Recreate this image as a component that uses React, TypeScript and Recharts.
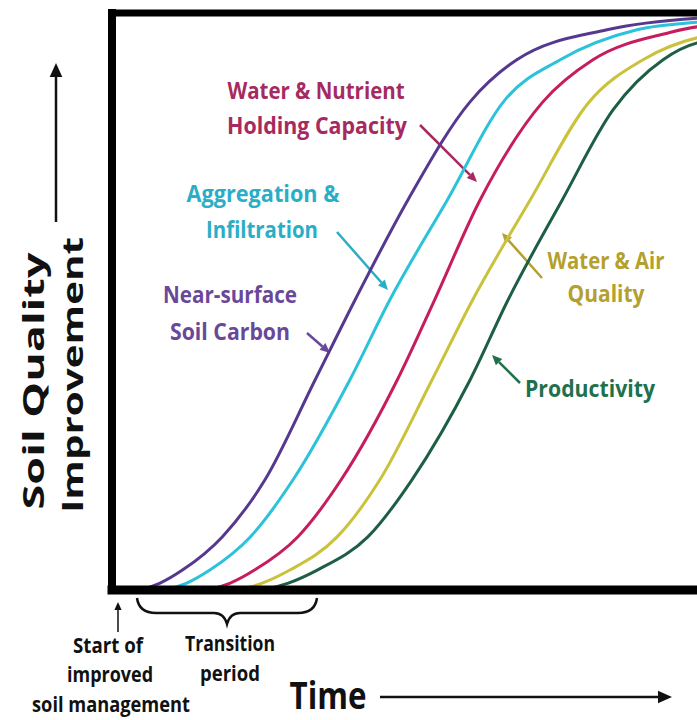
import React from "react";
import {
  LineChart,
  Line,
  XAxis,
  YAxis,
  ReferenceLine,
  Customized,
} from "recharts";

// time since start of improved management (0-100), soil quality improvement (0-100)
const carbonTime = [4.2, 7.2, 10.6, 16.5, 22.9, 30.4, 36.4, 44.3, 53.6, 60.6, 74.1, 87.6, 100];
const carbonLevel = [0, 1.2, 3.5, 9.2, 19.1, 36.4, 50.3, 67.6, 84.6, 91.9, 97.1, 99.1, 99.6];

const aggregationTime = [7.9, 11.2, 14.7, 20.7, 27.1, 35.6, 41.6, 50.2, 58.8, 67.1, 78.6, 87.6, 100];
const aggregationLevel = [0, 1.2, 3.5, 9.2, 19.1, 36.4, 50.3, 67.6, 84.9, 91.9, 97.1, 98.4, 99.0];

const nutrientTime = [14.4, 17.7, 21.4, 27.8, 34.3, 42.7, 48.3, 55.1, 64.5, 72.0, 83.1, 87.6, 100];
const nutrientLevel = [0, 1.2, 3.5, 9.2, 19.1, 36.4, 50.3, 67.6, 84.6, 91.9, 96.5, 97.6, 98.4];

const waterAirTime = [18.9, 22.5, 26.7, 33.7, 40.1, 47.9, 54.0, 62.6, 71.3, 79.5, 87.6, 100];
const waterAirLevel = [0, 1.2, 3.5, 9.2, 19.1, 36.4, 50.3, 67.6, 84.4, 91.9, 95.7, 97.4];

const productivityTime = [22.5, 26.4, 30.8, 38.3, 44.9, 53.6, 59.3, 67.4, 75.0, 82.5, 87.6, 100];
const productivityLevel = [0, 1.2, 3.5, 9.2, 19.1, 36.4, 50.3, 67.6, 83.2, 91.9, 94.8, 96.7];

const toPoints = (t: number[], v: number[]) => t.map((x, i) => ({ t: x, v: v[i] }));

const series = [
  { name: "Near-surface Soil Carbon", color: "#56388f", data: toPoints(carbonTime, carbonLevel) },
  { name: "Aggregation & Infiltration", color: "#2cc2da", data: toPoints(aggregationTime, aggregationLevel) },
  { name: "Water & Nutrient Holding Capacity", color: "#c61d5e", data: toPoints(nutrientTime, nutrientLevel) },
  { name: "Water & Air Quality", color: "#c9c23a", data: toPoints(waterAirTime, waterAirLevel) },
  { name: "Productivity", color: "#1d5e44", data: toPoints(productivityTime, productivityLevel) },
];

const FONT = "'Open Sans', 'DejaVu Sans', sans-serif";

function Arrow({ x1, y1, x2, y2, color, w = 2.5, head = 10 }: any) {
  const a = Math.atan2(y2 - y1, x2 - x1);
  const bx = x2 - head * Math.cos(a);
  const by = y2 - head * Math.sin(a);
  const px = Math.sin(a) * head * 0.45;
  const py = -Math.cos(a) * head * 0.45;
  return (
    <g>
      <line x1={x1} y1={y1} x2={bx} y2={by} stroke={color} strokeWidth={w} />
      <polygon points={`${x2},${y2} ${bx + px},${by + py} ${bx - px},${by - py}`} fill={color} />
    </g>
  );
}

function Label({ x, y, text, len, size = 21, color = "#111", rotate = false }: any) {
  return (
    <text
      x={rotate ? 0 : x}
      y={rotate ? 0 : y}
      transform={rotate ? `translate(${x},${y}) rotate(-90)` : undefined}
      textAnchor="middle"
      fontFamily={FONT}
      fontWeight={700}
      fontSize={size}
      fill={color}
      textLength={len}
      lengthAdjust="spacingAndGlyphs"
    >
      {text}
    </text>
  );
}

function Annotations() {
  return (
    <g>
      {/* curve labels */}
      <Label x={316} y={99} text="Water & Nutrient" len={177} size={24} color="#a62a60" />
      <Label x={317} y={134} text="Holding Capacity" len={180} size={24} color="#a62a60" />
      <Arrow x1={420} y1={125} x2={477} y2={182} color="#a62a60" />

      <Label x={263} y={202} text="Aggregation &" len={153} size={24} color="#2aaec6" />
      <Label x={262} y={238} text="Infiltration" len={112} size={24} color="#2aaec6" />
      <Arrow x1={337} y1={232} x2={388} y2={290} color="#2aaec6" />

      <Label x={230} y={303} text="Near-surface" len={134} size={24} color="#6a4899" />
      <Label x={230} y={340} text="Soil Carbon" len={120} size={24} color="#6a4899" />
      <Arrow x1={307} y1={333} x2={330} y2={353} color="#6a4899" />

      <Label x={606} y={269} text="Water & Air" len={117} size={24} color="#b4a02c" />
      <Label x={606} y={302} text="Quality" len={77} size={24} color="#b4a02c" />
      <Arrow x1={542} y1={278} x2={502} y2={233} color="#b4a02c" />

      <Label x={590} y={397} text="Productivity" len={130} size={24} color="#21704c" />
      <Arrow x1={520} y1={383} x2={492} y2={355} color="#21704c" />

      {/* y axis title */}
      <Label x={44} y={381} text="Soil Quality" len={257} size={29} rotate />
      <Label x={83} y={375} text="Improvement" len={276} size={29} rotate />
      <Arrow x1={56} y1={222} x2={56} y2={63} color="#111" w={2.5} head={14} />

      {/* x axis title */}
      <Label x={328} y={709} text="Time" len={77} size={38} />
      <Arrow x1={380} y1={697} x2={672} y2={697} color="#111" w={2.5} head={14} />

      {/* start marker and transition brace */}
      <Arrow x1={118} y1={632} x2={118} y2={602} color="#111" w={1.5} head={8} />
      <Label x={108} y={653} text="Start of" len={70} size={21} />
      <Label x={110} y={682} text="improved" len={86} size={21} />
      <Label x={111} y={712} text="soil management" len={158} size={21} />
      <path
        d="M137,598 Q139,613 156,613 L214,613 Q224,613 227,624 Q230,613 240,613 L298,613 Q315,613 317,598"
        fill="none"
        stroke="#111"
        strokeWidth={2.5}
      />
      <Label x={230} y={651} text="Transition" len={90} size={21} />
      <Label x={230} y={681} text="period" len={60} size={21} />
    </g>
  );
}

export default function App() {
  return (
    <div
      style={{
        position: "fixed",
        left: 0,
        top: 0,
        width: 697,
        height: 720,
        overflow: "hidden",
        background: "#fff",
      }}
    >
      <LineChart width={780} height={720} margin={{ top: 13, right: 0, bottom: 130, left: 112 }}>
        <XAxis type="number" dataKey="t" domain={[0, 100]} hide />
        <YAxis type="number" dataKey="v" domain={[0, 100]} hide />
        {series.map((s) => (
          <Line
            key={s.name}
            data={s.data}
            dataKey="v"
            name={s.name}
            type="monotone"
            stroke={s.color}
            strokeWidth={3}
            dot={false}
            isAnimationActive={false}
          />
        ))}
        <ReferenceLine x={0} stroke="#000" strokeWidth={8} strokeLinecap="square" />
        <ReferenceLine y={0} stroke="#000" strokeWidth={9} strokeLinecap="square" />
        <ReferenceLine y={100} stroke="#000" strokeWidth={7} strokeLinecap="square" />
        <Customized component={Annotations} />
      </LineChart>
    </div>
  );
}
